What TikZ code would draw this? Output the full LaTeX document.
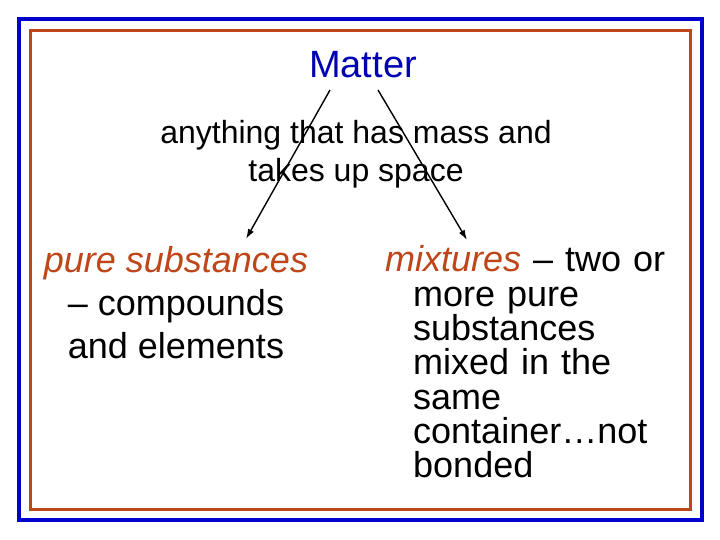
\documentclass[tikz,border=0pt]{standalone}
\usepackage{fontspec}
\setmainfont{Liberation Sans}
\usepackage{xcolor}
\usetikzlibrary{calc,
	positioning,
	arrows.meta}
\definecolor{frameblue}{RGB}{0,0,204}
\definecolor{titleblue}{RGB}{0,0,178}
\definecolor{rust}{RGB}{190,70,25}
\tikzstyle{ttl}=[inner sep=0, text=titleblue, font=\fontsize{38}{44}\selectfont]
\tikzstyle{defn}=[inner sep=0, align=center, font=\fontsize{32}{38.5}\selectfont]
\tikzstyle{kind}=[inner sep=0, font=\fontsize{36}{43}\selectfont]
\tikzstyle{arr}=[line width=1.4pt, -{Latex[length=10pt,width=6.5pt]}]

\begin{document}
\begin{tikzpicture}[x=1pt, y=1pt]
	\useasboundingbox[fill=white] (0,0) rectangle (720,540);
	\draw[frameblue, line width=4pt] (19,20) rectangle (702,521);
	\draw[rust, line width=3pt] (30.5,30.5) rectangle (690.5,509.5);
	\node[ttl, anchor=base] (matter) at (363,462) {Matter};
	% multi-line nodes sit on their last line
	\node[defn, anchor=base] (def) at (356,358) {anything that has mass and\\takes up space};
	\node[kind, anchor=base, align=center] (pure) at (176,181)
		{\textcolor{rust}{\textit{pure substances}}\\– compounds\\and elements};
	\node[kind, anchor=base west, text width=300pt, align=left,
		font=\fontsize{36}{34.3}\selectfont] (mix) at (385,268)
		{\leftskip=28pt\hspace*{-28pt}\textcolor{rust}{\textit{mixtures}} – two or\\more pure\\substances\\mixed in the\\same\\container…not\\bonded\par};
	\draw[arr] ([xshift=-33pt,yshift=-12pt]matter.base) -- ([xshift=70pt,yshift=120pt]pure.base);
	\draw[arr] ([xshift=15pt,yshift=-12pt]matter.base) -- ([xshift=82pt,yshift=32pt]mix.base west);
\end{tikzpicture}
\end{document}
